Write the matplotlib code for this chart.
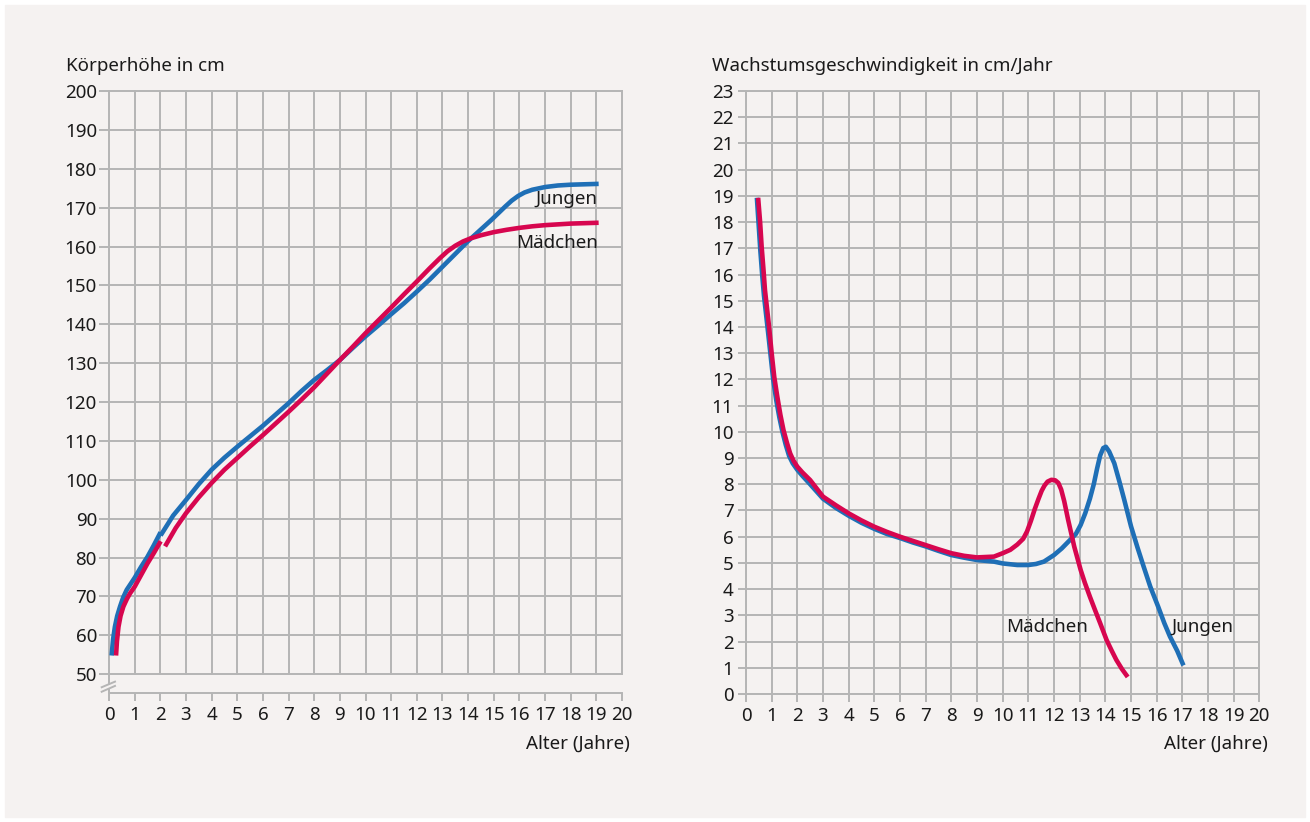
import matplotlib.pyplot as plt
from matplotlib.patches import Rectangle

plt.rcParams['font.family'] = ['Noto Sans', 'DejaVu Sans']

# Körperhöhe (cm) - Jungen, zwei Abschnitte (Liegen / Stehen)
jungen_x1 = [0.11, 0.16, 0.23, 0.32, 0.43, 0.55, 0.69, 0.85, 1.0, 1.25, 1.5, 1.75, 1.97]
jungen_y1 = [55.4, 59.0, 62.2, 65.0, 67.4, 69.7, 71.7, 73.3, 74.8, 77.6, 80.2, 83.2, 86.0]
jungen_x2 = [2.06, 2.5, 3, 3.5, 4, 4.5, 5, 5.5, 6, 6.5, 7, 7.5, 8, 8.5, 9, 9.5, 10, 10.5,
             11, 11.5, 12, 12.5, 13, 13.5, 14, 14.5, 14.9, 15.2, 15.45, 15.7, 15.95, 16.2,
             16.5, 17, 17.5, 18, 18.5, 19]
jungen_y2 = [86.2, 90.8, 94.8, 98.9, 102.6, 105.7, 108.5, 111.2, 113.9, 116.8, 119.7, 122.8,
             125.7, 128.2, 130.8, 133.9, 136.9, 139.7, 142.6, 145.4, 148.4, 151.5, 154.8,
             158.1, 161.4, 164.4, 166.8, 168.7, 170.3, 171.8, 173.0, 173.9, 174.6, 175.3,
             175.7, 175.9, 176.0, 176.1]

# Körperhöhe (cm) - Mädchen
maedchen_x1 = [0.28, 0.31, 0.37, 0.45, 0.56, 0.7, 0.82, 1.0, 1.25, 1.5, 1.75, 1.97]
maedchen_y1 = [55.4, 58.5, 62.2, 65.0, 67.4, 69.4, 70.8, 72.5, 75.5, 78.5, 81.2, 83.7]
maedchen_x2 = [2.23, 2.6, 3, 3.5, 4, 4.5, 5, 5.5, 6, 6.5, 7, 7.5, 8, 8.5, 9, 9.5, 10, 10.5,
               11, 11.5, 12, 12.5, 12.9, 13.2, 13.5, 13.8, 14.1, 14.5, 15, 15.5, 16, 16.5,
               17, 17.5, 18, 18.5, 19]
maedchen_y2 = [83.4, 87.6, 91.4, 95.5, 99.2, 102.6, 105.6, 108.6, 111.5, 114.5, 117.5, 120.6,
               123.8, 127.3, 130.8, 134.2, 137.7, 141.0, 144.3, 147.7, 151.0, 154.4, 157.0,
               158.8, 160.2, 161.3, 162.1, 162.9, 163.7, 164.3, 164.8, 165.2, 165.5, 165.7,
               165.9, 166.0, 166.1]

# Wachstumsgeschwindigkeit (cm/Jahr)
gesch_m_x = [0.48, 0.55, 0.61, 0.68, 0.74, 0.82, 0.9, 1.0, 1.1, 1.22, 1.34, 1.46, 1.59, 1.72,
             1.85, 2.0, 2.2, 2.5, 3, 3.5, 4, 4.5, 5, 5.5, 6, 6.5, 7, 7.5, 8, 8.5, 9, 9.66,
             10, 10.3, 10.57, 10.8, 10.95, 11.1, 11.25, 11.4, 11.52, 11.63, 11.75, 11.9,
             12.05, 12.17, 12.28, 12.4, 12.55, 12.79, 13.04, 13.2, 13.4, 13.6, 13.8, 14.05,
             14.25, 14.43, 14.65, 14.82]
gesch_m_y = [18.84, 18.0, 17.06, 16.2, 15.4, 14.7, 14.0, 13.0, 12.1, 11.34, 10.65, 10.07,
             9.6, 9.18, 8.9, 8.67, 8.45, 8.16, 7.53, 7.2, 6.89, 6.62, 6.38, 6.18, 6.0, 5.84,
             5.68, 5.52, 5.37, 5.27, 5.21, 5.24, 5.37, 5.5, 5.7, 5.92, 6.2, 6.6, 7.05, 7.45,
             7.75, 7.95, 8.1, 8.17, 8.15, 8.05, 7.8, 7.35, 6.65, 5.62, 4.73, 4.25, 3.71, 3.2,
             2.7, 2.06, 1.65, 1.3, 0.95, 0.72]
gesch_j_x = [0.43, 0.5, 0.56, 0.63, 0.7, 0.78, 0.86, 0.96, 1.06, 1.18, 1.3, 1.42, 1.55, 1.68,
             1.82, 2.0, 2.2, 2.5, 3, 3.5, 4, 4.5, 5, 5.5, 6, 6.5, 7, 7.5, 8, 8.5, 9, 9.66,
             10, 10.57, 11, 11.3, 11.61, 12, 12.3, 12.6, 12.85, 13.04, 13.22, 13.4, 13.55,
             13.68, 13.8, 13.92, 14.02, 14.15, 14.35, 14.55, 14.74, 15.0, 15.25, 15.48, 15.75,
             16.06, 16.3, 16.52, 16.8, 17.01]
gesch_j_y = [18.84, 17.8, 16.9, 16.0, 15.2, 14.5, 13.8, 12.9, 12.0, 11.2, 10.55, 10.0, 9.5,
             9.08, 8.8, 8.55, 8.32, 8.0, 7.45, 7.1, 6.8, 6.53, 6.3, 6.1, 5.95, 5.78, 5.63,
             5.46, 5.3, 5.2, 5.11, 5.05, 4.98, 4.92, 4.92, 4.96, 5.05, 5.3, 5.55, 5.85, 6.1,
             6.45, 6.9, 7.45, 8.0, 8.6, 9.1, 9.38, 9.43, 9.25, 8.8, 8.1, 7.4, 6.4, 5.6, 4.9,
             4.1, 3.33, 2.7, 2.19, 1.65, 1.17]

x_ticks = list(range(0, 21))
hoehe_ticks = list(range(50, 201, 10))
gesch_ticks = list(range(0, 24))

blau = '#1f6fb6'
rot = '#d7064f'
grau = '#b5b5b5'
hintergrund = '#f5f2f1'
schrift = '#1a1a1a'
lw_kurve = 3.3
lw_gitter = 1.4
fs = 13.5

fig = plt.figure(figsize=(13.1, 8.22), dpi=100, facecolor='white')
fig.patches.append(Rectangle((5 / 1310, 5 / 822), 1300 / 1310, 812 / 822,
                             transform=fig.transFigure, color=hintergrund, zorder=-10))

# -- Links : Körperhöhe --
ax = fig.add_axes([109 / 1310, (822 - 693.3) / 822, 513 / 1310, 602.3 / 822])
ax.set_facecolor('none')
y_unten = 45.1
ax.set_xlim(0, 20)
ax.set_ylim(y_unten, 200)
for s in ax.spines.values():
    s.set_visible(False)
for x in x_ticks[1:]:
    ax.plot([x, x], [50, 200], color=grau, lw=lw_gitter, zorder=1, clip_on=False)
for y in hoehe_ticks:
    ax.plot([0, 20], [y, y], color=grau, lw=lw_gitter, zorder=1, clip_on=False)
ax.plot([0, 20], [y_unten, y_unten], color=grau, lw=lw_gitter, zorder=1, clip_on=False)
# linke Achse mit Unterbrechung
ax.plot([0, 0], [47.45, 200], color=grau, lw=lw_gitter, zorder=1, clip_on=False)
ax.plot([0, 0], [y_unten, 46.3], color=grau, lw=lw_gitter, zorder=1, clip_on=False)
ax.plot([-0.285, 0.234], [46.66, 48.1], color=grau, lw=lw_gitter, clip_on=False)
ax.plot([-0.285, 0.234], [45.5, 47.0], color=grau, lw=lw_gitter, clip_on=False)

ax.plot(jungen_x1, jungen_y1, color=blau, lw=lw_kurve, zorder=3)
ax.plot(jungen_x2, jungen_y2, color=blau, lw=lw_kurve, zorder=3)
ax.plot(maedchen_x1, maedchen_y1, color=rot, lw=lw_kurve, zorder=4)
ax.plot(maedchen_x2, maedchen_y2, color=rot, lw=lw_kurve, zorder=4)

ax.set_xticks(x_ticks)
ax.set_yticks(hoehe_ticks)
ax.tick_params(axis='y', direction='out', length=7.2, width=lw_gitter, color=grau,
               pad=1.5, labelsize=fs, labelcolor=schrift)
ax.tick_params(axis='x', direction='out', length=6, width=lw_gitter, color=grau,
               pad=3, labelsize=fs, labelcolor=schrift)
ax.text(19.05, 172.2, 'Jungen', ha='right', va='center', fontsize=fs, color=schrift)
ax.text(19.05, 160.9, 'Mädchen', ha='right', va='center', fontsize=fs, color=schrift)

# -- Rechts : Wachstumsgeschwindigkeit --
ax = fig.add_axes([746 / 1310, (822 - 694) / 822, 513.3 / 1310, 603 / 822])
ax.set_facecolor('none')
ax.set_xlim(0, 20)
ax.set_ylim(0, 23)
for s in ax.spines.values():
    s.set_color(grau)
    s.set_linewidth(lw_gitter)
ax.set_xticks(x_ticks)
ax.set_yticks(gesch_ticks)
ax.grid(True, color=grau, lw=lw_gitter, zorder=1)
ax.set_axisbelow(True)

ax.plot(gesch_j_x, gesch_j_y, color=blau, lw=lw_kurve, zorder=3)
ax.plot(gesch_m_x, gesch_m_y, color=rot, lw=lw_kurve, zorder=4)

ax.tick_params(axis='y', direction='out', length=6, width=lw_gitter, color=grau,
               pad=3, labelsize=fs, labelcolor=schrift)
ax.tick_params(axis='x', direction='out', length=6, width=lw_gitter, color=grau,
               pad=3, labelsize=fs, labelcolor=schrift)
ax.text(11.72, 2.56, 'Mädchen', ha='center', va='center', fontsize=fs, color=schrift)
ax.text(17.8, 2.56, 'Jungen', ha='center', va='center', fontsize=fs, color=schrift)

# Achsenbeschriftungen
fig.text(66 / 1310, 1 - 66 / 822, 'Körperhöhe in cm', ha='left', va='center',
         fontsize=fs, color=schrift)
fig.text(712 / 1310, 1 - 66 / 822, 'Wachstumsgeschwindigkeit in cm/Jahr', ha='left',
         va='center', fontsize=fs, color=schrift)
fig.text(630 / 1310, 1 - 744 / 822, 'Alter (Jahre)', ha='right', va='center',
         fontsize=fs, color=schrift)
fig.text(1268 / 1310, 1 - 744 / 822, 'Alter (Jahre)', ha='right', va='center',
         fontsize=fs, color=schrift)

fig.savefig('out.png', dpi=100, facecolor=fig.get_facecolor())
